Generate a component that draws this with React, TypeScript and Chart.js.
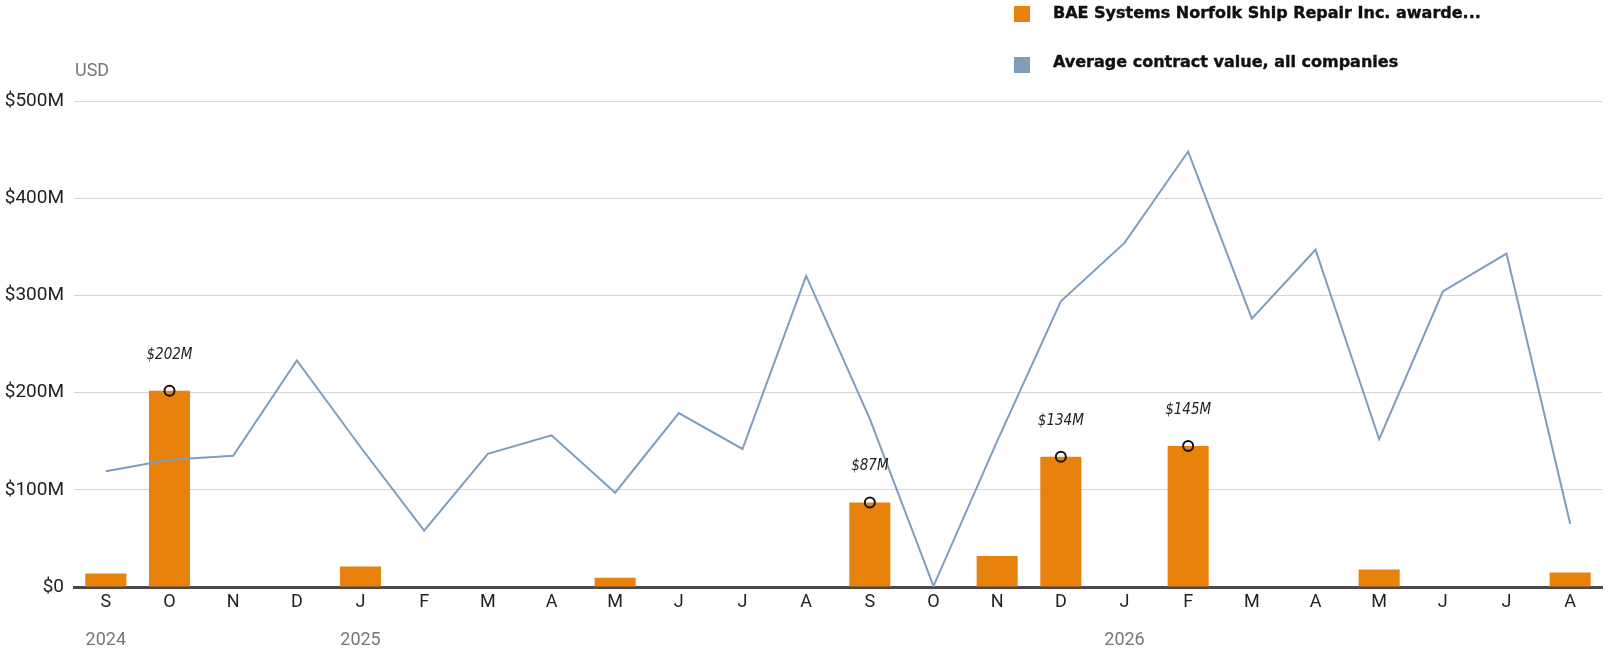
import React, { useEffect, useRef } from "react";
import { Chart, registerables } from "chart.js";

Chart.register(...registerables);

const months = ["S","O","N","D","J","F","M","A","M","J","J","A","S","O","N","D","J","F","M","A","M","J","J","A"];
const years = ["2024","","","","2025","","","","","","","","","","","","2026","","","","","","",""];
const baeValues = [14,202,0,0,21,0,0,0,9.5,0,0,0,87,0,32,134,0,145,0,0,18,0,0,15];
const avgValues = [119,131,135,233,144,58,137,156,97,179,142,320,173,1,150,294,354,448,276,347,152,304,343,65];
const annotations = ["","$202M","","","","","","","","","","","$87M","","","$134M","","$145M","","","","","",""];
const yTicks = [0,100,200,300,400,500];

const BAR_COLOR = "#E8820C";
const LINE_COLOR = "#7F9DBD";
const FONT = "Roboto, 'Liberation Sans', sans-serif";

const extrasPlugin = {
  id: "extras",
  afterDatasetsDraw(chart: any) {
    const ctx = chart.ctx;
    const x = chart.scales.x;
    const y = chart.scales.y;
    ctx.save();
    annotations.forEach((a, i) => {
      if (!a) return;
      const px = x.getPixelForValue(i);
      const py = y.getPixelForValue(baeValues[i]);
      ctx.beginPath();
      ctx.arc(px, py, 5, 0, Math.PI * 2);
      ctx.lineWidth = 2;
      ctx.strokeStyle = "#111";
      ctx.stroke();
      ctx.font = "italic 15px 'Liberation Sans Narrow', 'DejaVu Sans Condensed', sans-serif";
      ctx.fillStyle = "#222";
      ctx.textAlign = "center";
      ctx.textBaseline = "middle";
      ctx.fillText(a, px, py - 36);
    });
    ctx.font = "18px " + FONT;
    ctx.fillStyle = "#777";
    ctx.textAlign = "center";
    ctx.textBaseline = "middle";
    years.forEach((yr, i) => {
      if (!yr) return;
      ctx.fillText(yr, x.getPixelForValue(i), 640);
    });
    ctx.textAlign = "left";
    ctx.font = "18px " + FONT;
    ctx.fillText("USD", 75, 71);
    ctx.restore();
  },
};

export default function App() {
  const ref = useRef<HTMLCanvasElement>(null);
  useEffect(() => {
    if (!ref.current) return;
    const chart = new Chart(ref.current, {
      type: "bar",
      data: {
        labels: months,
        datasets: [
          {
            type: "line",
            label: "Average contract value, all companies",
            data: avgValues,
            borderColor: LINE_COLOR,
            borderWidth: 2,
            pointRadius: 0,
            tension: 0,
            order: 0,
          } as any,
          {
            type: "bar",
            label: "BAE Systems Norfolk Ship Repair Inc. awarde...",
            data: baeValues,
            backgroundColor: BAR_COLOR,
            barPercentage: 0.645,
            categoryPercentage: 1,
            order: 1,
          },
        ],
      },
      options: {
        animation: false,
        responsive: false,
        maintainAspectRatio: false,
        layout: { padding: { left: 0, right: 8, top: 101, bottom: 0 } },
        plugins: { legend: { display: false }, tooltip: { enabled: false } },
        scales: {
          x: {
            grid: { display: false, drawTicks: false },
            border: { display: true, color: "#4a4a4a", width: 3 },
            ticks: { color: "#222", font: { family: FONT, size: 18 }, padding: 5, maxRotation: 0, autoSkip: false },
            afterFit(scale: any) { scale.height = 69; },
          },
          y: {
            min: 0,
            max: 500,
            afterBuildTicks(scale: any) { scale.ticks = yTicks.map((v) => ({ value: v })); },
            grid: { color: "#d6d6d6", lineWidth: 1, drawTicks: false },
            border: { display: false },
            ticks: {
              color: "#222",
              font: { family: FONT, size: 19 },
              padding: 10,
              callback: (v: any) => (v === 0 ? "$0" : `$${v}M`),
            },
            afterFit(scale: any) { scale.width = 74; },
          },
        },
      },
      plugins: [extrasPlugin],
    });
    return () => chart.destroy();
  }, []);

  const legendText: React.CSSProperties = {
    position: "absolute",
    left: 1053,
    font: "bold 16px 'DejaVu Sans', sans-serif",
    color: "#111",
    whiteSpace: "nowrap",
    lineHeight: "20px",
    WebkitTextStroke: "0.4px #111",
  };
  const sq: React.CSSProperties = { position: "absolute", left: 1014, width: 16, height: 16 };

  return (
    <div style={{ position: "absolute", left: 0, top: 0, width: 1610, height: 656, background: "#fff" }}>
      <canvas ref={ref} width={1610} height={656} style={{ position: "absolute", left: 0, top: 0 }} />
      <div style={{ ...sq, top: 6, background: BAR_COLOR }} />
      <div style={{ ...legendText, top: 3 }}>BAE Systems Norfolk Ship Repair Inc. awarde...</div>
      <div style={{ ...sq, top: 57, background: LINE_COLOR }} />
      <div style={{ ...legendText, top: 52 }}>Average contract value, all companies</div>
    </div>
  );
}
